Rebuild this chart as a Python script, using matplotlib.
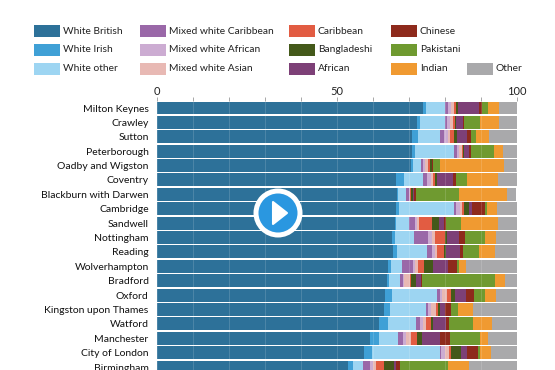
import matplotlib
matplotlib.use('Agg')
import matplotlib.pyplot as plt
from matplotlib.patches import Circle, Polygon, Rectangle
import numpy as np

places = ['Milton Keynes', 'Crawley', 'Sutton', 'Peterborough', 'Oadby and Wigston', 'Coventry',
          'Blackburn with Darwen', 'Cambridge', 'Sandwell', 'Nottingham', 'Reading', 'Wolverhampton',
          'Bradford', 'Oxford', 'Kingston upon Thames', 'Watford', 'Manchester', 'City of London', 'Birmingham']

white_british = [73.8, 72.1, 70.9, 70.7, 70.5, 66.5, 66.7, 66.3, 66.0, 65.4, 65.5, 64.25, 63.8, 63.4, 62.95, 61.75, 59.15, 57.4, 53.0]
white_irish = [0.8, 1.0, 1.7, 1.1, 0.5, 2.2, 0.3, 1.0, 0.4, 0.8, 1.3, 0.65, 0.65, 1.75, 1.65, 2.3, 2.5, 2.3, 1.4]
white_other = [5.4, 6.9, 6.0, 10.8, 2.2, 5.2, 2.3, 15.2, 3.5, 5.3, 8.1, 3.15, 3.05, 12.6, 10.1, 8.0, 5.2, 18.9, 2.9]
mixed_caribbean = [0.8, 0.65, 1.0, 0.6, 0.55, 1.1, 0.7, 0.45, 1.85, 3.8, 1.4, 3.15, 0.75, 0.9, 0.45, 1.0, 1.5, 0.3, 2.0]
mixed_african = [0.8, 0.7, 1.1, 0.7, 0.7, 1.1, 0.2, 1.2, 0.4, 1.0, 0.9, 0.45, 0.35, 0.65, 0.85, 0.9, 0.75, 1.1, 0.75]
mixed_asian = [0.9, 0.9, 0.8, 0.8, 0.7, 0.7, 0.2, 0.7, 0.7, 1.0, 0.65, 0.8, 1.65, 1.3, 1.5, 0.75, 1.4, 1.2, 0.9]
caribbean = [0.6, 0.4, 1.0, 0.4, 0.65, 0.4, 0.1, 0.4, 3.5, 2.8, 1.75, 1.65, 0.3, 1.0, 0.45, 1.5, 1.65, 0.55, 2.0]
bangladeshi = [0.5, 0.4, 0.9, 0.2, 0.5, 0.6, 0.6, 1.3, 2.0, 0.55, 0.55, 2.6, 1.4, 1.2, 0.65, 0.55, 1.4, 2.8, 2.8]
african = [5.9, 1.85, 2.7, 1.4, 0.2, 4.3, 0.4, 1.0, 1.4, 3.15, 4.1, 4.0, 1.4, 3.0, 1.5, 3.4, 5.1, 1.5, 0.55]
chinese = [0.8, 0.4, 1.1, 0.5, 0.3, 0.9, 0.5, 3.6, 0.4, 1.8, 0.8, 2.7, 0.35, 2.2, 1.65, 0.85, 2.7, 3.25, 1.1]
pakistani = [1.6, 4.3, 1.5, 6.3, 1.7, 3.1, 12.0, 0.65, 4.4, 5.55, 4.4, 0.55, 20.2, 3.15, 1.95, 6.65, 8.4, 0.55, 13.5]
indian = [3.1, 5.3, 3.4, 2.7, 17.8, 8.7, 13.2, 2.7, 10.2, 3.15, 4.35, 1.95, 2.7, 2.9, 4.0, 5.45, 2.3, 2.8, 5.9]
other = [4.9, 5.2, 7.8, 3.7, 3.8, 5.2, 2.6, 5.5, 5.2, 5.7, 6.1, 14.1, 3.4, 5.9, 12.2, 6.9, 8.0, 7.4, 13.1]

series = [white_british, white_irish, white_other, mixed_caribbean, mixed_african, mixed_asian,
          caribbean, bangladeshi, african, chinese, pakistani, indian, other]
colours = ['#2d7199', '#3fa0d6', '#9dd5f2', '#9a68a8', '#ccacd2', '#e8b9b4',
           '#e25c42', '#44591a', '#7d4077', '#8e2a1c', '#6f9a30', '#f09a31', '#a9a9ab']

legend_names = ['White British', 'White Irish', 'White other', 'Mixed white Caribbean', 'Mixed white African',
                'Mixed white Asian', 'Caribbean', 'Bangladeshi', 'African', 'Chinese', 'Pakistani', 'Indian', 'Other']
legend_x = [34, 34, 34, 140, 140, 140, 289, 289, 289, 391, 391, 391, 467]
legend_y = [31, 50, 68.5, 31, 50, 68.5, 31, 50, 68.5, 31, 50, 68.5, 68.5]

W, H = 555, 370
fig = plt.figure(figsize=(W / 100, H / 100), dpi=100)
plt.rcParams['font.family'] = ['Lato', 'DejaVu Sans']

ax = fig.add_axes([157 / W, 0, (517 - 157) / W, (H - 101) / H])
y = np.arange(len(places))
left = np.zeros(len(places))
for vals, c in zip(series, colours):
    ax.barh(y, vals, left=left, height=0.9, color=c, linewidth=0)
    left += np.array(vals)

# row pitch is 14.39px, first row centre at y=108
ax.set_ylim((H - 108) / 14.39, (101 - 108) / 14.39)
ax.set_xlim(0, 100)
ax.xaxis.tick_top()
ax.set_xticks(np.arange(0, 101, 10))
ax.set_xticklabels(['0', '', '', '', '', '50', '', '', '', '', '100'], fontsize=8, color='#222222')
ax.tick_params(axis='x', length=3, width=0.6, color='#999999', pad=0)
ax.set_yticks(y)
ax.set_yticklabels(places, fontsize=7.5, color='#111111')
ax.tick_params(axis='y', length=0, pad=6)
ax.grid(axis='x', color='white', alpha=0.15, linewidth=0.7)
ax.set_axisbelow(False)
for s in ax.spines.values():
    s.set_visible(False)

# legend in pixel coords
over = fig.add_axes([0, 0, 1, 1], facecolor='none')
over.set_xlim(0, W)
over.set_ylim(H, 0)
over.axis('off')
for name, c, lx, ly in zip(legend_names, colours, legend_x, legend_y):
    over.add_patch(Rectangle((lx, ly - 6), 26, 12, facecolor=c, linewidth=0))
    over.text(lx + 29, ly, name, fontsize=7.4, color='#222222', va='center', ha='left')

# play button
over.add_patch(Circle((278, 213), 24.5, facecolor='white', linewidth=0, zorder=5))
over.add_patch(Circle((278, 213), 19.5, facecolor='#2a97e0', linewidth=0, zorder=6))
over.add_patch(Polygon([(273, 202), (273, 224), (287, 213)], closed=True, facecolor='white',
                       edgecolor='white', linewidth=1.5, joinstyle='round', zorder=7))

fig.savefig('out.png', dpi=100)
